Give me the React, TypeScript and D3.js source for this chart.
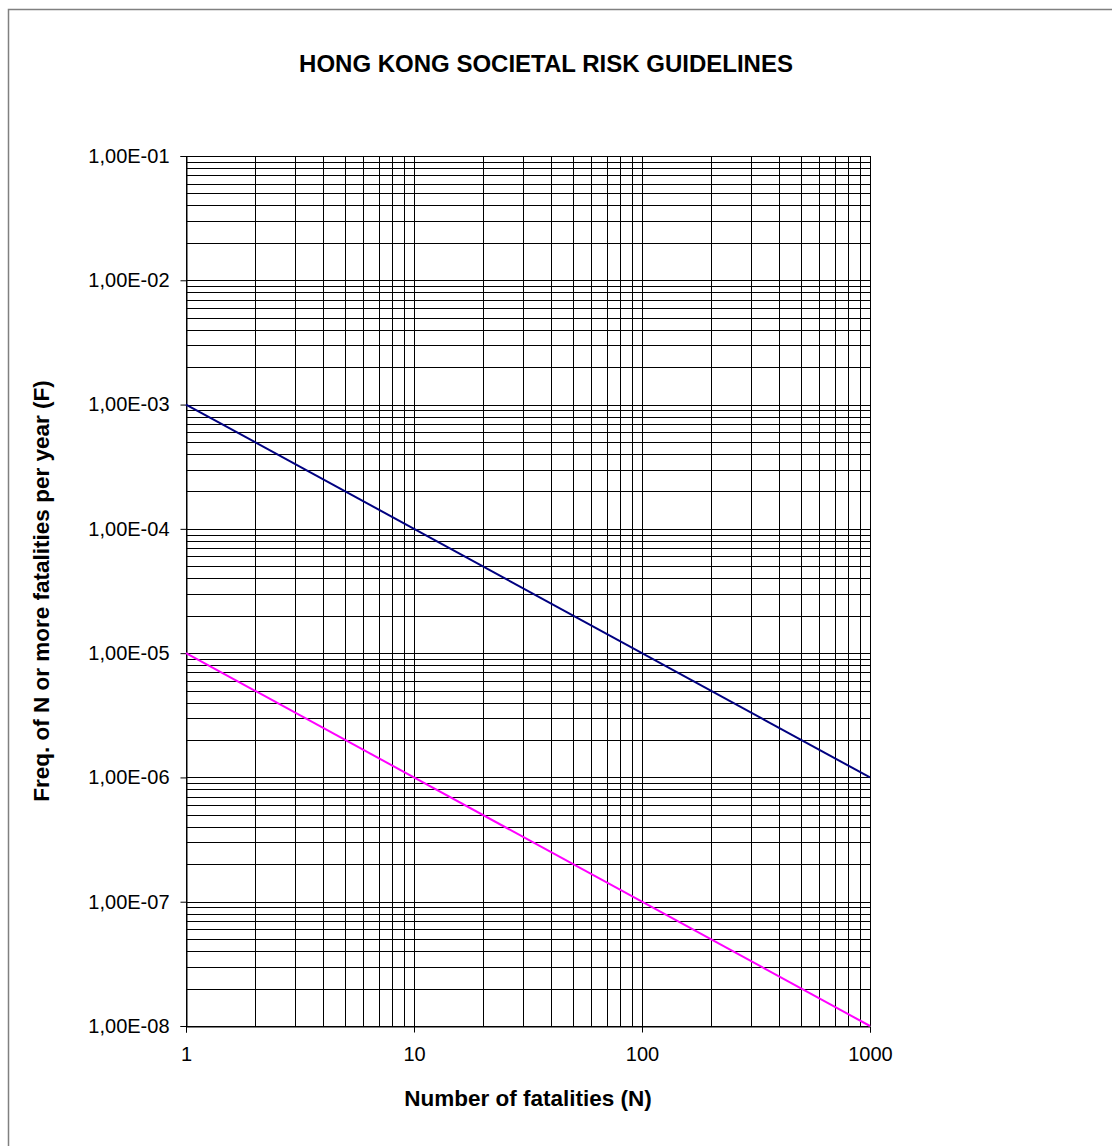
import React, { useEffect, useRef } from "react";
import * as d3 from "d3";

// Guideline lines (F-N curves)
const fatalities = [1, 1000];
const upperLimit = [1e-3, 1e-6];
const lowerLimit = [1e-5, 1e-8];

// Axis ticks
const xTicks = [1, 10, 100, 1000];
const xTickLabels = ["1", "10", "100", "1000"];
const yTicks = [1e-8, 1e-7, 1e-6, 1e-5, 1e-4, 1e-3, 1e-2, 1e-1];
const yTickLabels = [
  "1,00E-08",
  "1,00E-07",
  "1,00E-06",
  "1,00E-05",
  "1,00E-04",
  "1,00E-03",
  "1,00E-02",
  "1,00E-01",
];

const FONT = "'Liberation Sans', Arial, sans-serif";

export default function App() {
  const ref = useRef<SVGSVGElement>(null);

  useEffect(() => {
    const svg = d3.select(ref.current);
    svg.selectAll("*").remove();

    // plot area in page pixels
    const left = 186,
      right = 870,
      top = 156,
      bottom = 1026;

    // outer chart frame
    svg
      .append("rect")
      .attr("x", 8.5)
      .attr("y", 9.5)
      .attr("width", 1120)
      .attr("height", 1160)
      .attr("fill", "white")
      .attr("stroke", "#808080")
      .attr("stroke-width", 1.5);

    var x = d3.scaleLog().domain([1, 1000]).range([left, right]);
    var y = d3.scaleLog().domain([1e-8, 1e-1]).range([bottom, top]);

    // gridlines (major + minor)
    var xGrid: number[] = [];
    for (let k = 0; k < 3; k++)
      for (let m = 1; m < 10; m++) xGrid.push(m * Math.pow(10, k));
    xGrid.push(1000);
    var yGrid: number[] = [];
    for (let k = -8; k < -1; k++)
      for (let m = 1; m < 10; m++) yGrid.push(m * Math.pow(10, k));
    yGrid.push(1e-1);

    const grid = svg.append("g").attr("stroke", "#000").attr("stroke-width", 1);
    grid
      .selectAll("line.v")
      .data(xGrid)
      .join("line")
      .attr("class", "v")
      .attr("x1", (d) => Math.round(x(d)) + 0.5)
      .attr("x2", (d) => Math.round(x(d)) + 0.5)
      .attr("y1", top)
      .attr("y2", bottom);
    grid
      .selectAll("line.h")
      .data(yGrid)
      .join("line")
      .attr("class", "h")
      .attr("y1", (d) => Math.round(y(d)) + 0.5)
      .attr("y2", (d) => Math.round(y(d)) + 0.5)
      .attr("x1", left)
      .attr("x2", right);

    // y axis
    const yAxis = svg
      .append("g")
      .attr("transform", `translate(${left + 0.5},0)`)
      .call(
        d3
          .axisLeft(y)
          .tickValues(yTicks)
          .tickSize(6)
          .tickPadding(11)
          .tickFormat((d, i) => yTickLabels[i])
      );
    yAxis.select(".domain").attr("stroke", "#000");
    yAxis
      .selectAll("text")
      .attr("font-family", FONT)
      .attr("font-size", 20)
      .attr("fill", "#000");

    // x axis
    const xAxis = svg
      .append("g")
      .attr("transform", `translate(0,${bottom + 0.5})`)
      .call(
        d3
          .axisBottom(x)
          .tickValues(xTicks)
          .tickSize(6)
          .tickPadding(14)
          .tickFormat((d, i) => xTickLabels[i])
      );
    xAxis.select(".domain").attr("stroke", "#000");
    xAxis
      .selectAll("text")
      .attr("font-family", FONT)
      .attr("font-size", 20)
      .attr("fill", "#000");

    // guideline curves
    var line = d3
      .line<number>()
      .x((d, i) => x(fatalities[i]))
      .y((d) => y(d));

    svg
      .append("path")
      .datum(upperLimit)
      .attr("d", line)
      .attr("fill", "none")
      .attr("stroke", "#000080")
      .attr("stroke-width", 2);

    svg
      .append("path")
      .datum(lowerLimit)
      .attr("d", line)
      .attr("fill", "none")
      .attr("stroke", "#ff00ff")
      .attr("stroke-width", 2);

    // chart title
    svg
      .append("text")
      .attr("x", 546)
      .attr("y", 72)
      .attr("text-anchor", "middle")
      .attr("font-family", FONT)
      .attr("font-weight", "bold")
      .attr("font-size", 24)
      .text("HONG KONG SOCIETAL RISK GUIDELINES");

    // x axis title
    svg
      .append("text")
      .attr("x", (left + right) / 2)
      .attr("y", 1106)
      .attr("text-anchor", "middle")
      .attr("font-family", FONT)
      .attr("font-weight", "bold")
      .attr("font-size", 22.5)
      .text("Number of fatalities (N)");

    // y axis title
    svg
      .append("text")
      .attr("transform", `translate(49,${(top + bottom) / 2}) rotate(-90)`)
      .attr("text-anchor", "middle")
      .attr("font-family", FONT)
      .attr("font-weight", "bold")
      .attr("font-size", 22.5)
      .text("Freq. of N or more fatalities per year (F)");
  }, []);

  return (
    <svg
      ref={ref}
      width={1112}
      height={1146}
      style={{ position: "absolute", left: 0, top: 0 }}
    ></svg>
  );
}
